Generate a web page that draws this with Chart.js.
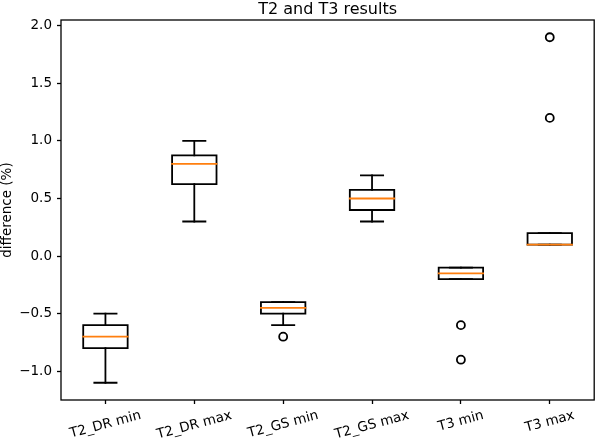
<!DOCTYPE html>
<html>
<head>
<meta charset="utf-8">
<script src="https://cdn.jsdelivr.net/npm/chart.js@4"></script>
<style>
  html, body { margin: 0; padding: 0; background: #fff; }
</style>
</head>
<body>
<canvas id="chart" width="600" height="439"></canvas>
<script>
// values
const titleText = 'T2 and T3 results';
const yLabel = 'difference (%)';
const categories = ['T2_DR min', 'T2_DR max', 'T2_GS min', 'T2_GS max', 'T3 min', 'T3 max'];
const whiskerLow = [-1.1, 0.3, -0.6, 0.3, -0.2, 0.1];
const q1 = [-0.8, 0.625, -0.5, 0.4, -0.2, 0.1];
const median = [-0.7, 0.8, -0.45, 0.5, -0.15, 0.1];
const q3 = [-0.6, 0.875, -0.4, 0.575, -0.1, 0.2];
const whiskerHigh = [-0.5, 1.0, -0.4, 0.7, -0.1, 0.2];
const outliers = [[], [], [-0.7], [], [-0.6, -0.9], [1.2, 1.9]];
const yTicks = [-1.0, -0.5, 0.0, 0.5, 1.0, 1.5, 2.0];

const FONT = '"DejaVu Sans", "Liberation Sans", sans-serif';
const halfBox = 0.25;
const halfCap = 0.125;

// building the line pieces, null y breaks the line between pieces
let boxPts = [], medianPts = [], whiskerPts = [], capPts = [], flierPts = [];
categories.forEach((c, i) => {
    const x = i + 1;
    boxPts.push({x: x - halfBox, y: q1[i]}, {x: x + halfBox, y: q1[i]},
                {x: x + halfBox, y: q3[i]}, {x: x - halfBox, y: q3[i]},
                {x: x - halfBox, y: q1[i]}, {x: x, y: null});
    medianPts.push({x: x - halfBox, y: median[i]}, {x: x + halfBox, y: median[i]}, {x: x, y: null});
    whiskerPts.push({x: x, y: whiskerLow[i]}, {x: x, y: q1[i]}, {x: x, y: null},
                    {x: x, y: q3[i]}, {x: x, y: whiskerHigh[i]}, {x: x, y: null});
    capPts.push({x: x - halfCap, y: whiskerLow[i]}, {x: x + halfCap, y: whiskerLow[i]}, {x: x, y: null},
                {x: x - halfCap, y: whiskerHigh[i]}, {x: x + halfCap, y: whiskerHigh[i]}, {x: x, y: null});
    outliers[i].forEach(v => flierPts.push({x: x, y: v}));
});

function lineSet(data, color, order) {
    return {
        data: data,
        showLine: true,
        spanGaps: false,
        borderColor: color,
        borderWidth: 1.8,
        borderCapStyle: 'square',
        pointRadius: 0,
        order: order
    };
}

// title, frame and the rotated category labels
const decor = {
    id: 'decor',
    afterDraw(chart) {
        const ctx = chart.ctx;
        const a = chart.chartArea;
        const xs = chart.scales.x;
        ctx.save();
        ctx.strokeStyle = '#000';
        ctx.lineWidth = 1.3;
        ctx.strokeRect(a.left, a.top, a.right - a.left, a.bottom - a.top);

        ctx.fillStyle = '#000';
        ctx.font = '16px ' + FONT;
        ctx.textAlign = 'center';
        ctx.textBaseline = 'alphabetic';
        ctx.fillText(titleText, (a.left + a.right) / 2, 13.5);

        ctx.font = '13.5px ' + FONT;
        const ang = 15 * Math.PI / 180;
        categories.forEach((c, i) => {
            const w = ctx.measureText(c).width;
            const boxH = w * Math.sin(ang) + 15 * Math.cos(ang);
            const cx = xs.getPixelForValue(i + 1);
            const cy = a.bottom + 8 + boxH / 2;
            ctx.save();
            ctx.translate(cx, cy);
            ctx.rotate(-ang);
            ctx.textAlign = 'center';
            ctx.textBaseline = 'middle';
            ctx.fillText(c, 0, 0);
            ctx.restore();
        });
        ctx.restore();
    }
};

const ctx = document.getElementById('chart').getContext('2d');
const chart = new Chart(ctx, {
    type: 'scatter',
    data: {
        datasets: [
            lineSet(medianPts, '#ff7f0e', 0),
            lineSet(boxPts, '#000', 1),
            lineSet(whiskerPts, '#000', 2),
            lineSet(capPts, '#000', 2),
            {
                data: flierPts,
                pointStyle: 'circle',
                pointRadius: 4,
                pointBorderWidth: 1.8,
                pointBorderColor: '#000',
                pointBackgroundColor: 'rgba(0,0,0,0)',
                order: 3
            }
        ]
    },
    options: {
        responsive: false,
        animation: false,
        events: [],
        layout: { padding: { left: 0, right: 1, top: 20, bottom: 0 } },
        plugins: {
            legend: { display: false },
            tooltip: { enabled: false }
        },
        scales: {
            x: {
                type: 'linear',
                min: 0.5,
                max: 6.5,
                afterBuildTicks: (scale) => { scale.ticks = categories.map((c, i) => ({value: i + 1})); },
                afterFit: (scale) => { scale.height = 39; },
                grid: { drawOnChartArea: false, drawTicks: true, tickLength: 4, tickColor: '#000', tickWidth: 1.3 },
                border: { display: false },
                ticks: { callback: () => '', padding: 0 }
            },
            y: {
                type: 'linear',
                min: -1.25,
                max: 2.05,
                afterBuildTicks: (scale) => { scale.ticks = yTicks.map(v => ({value: v})); },
                afterFit: (scale) => { scale.width = 61; },
                grid: { drawOnChartArea: false, drawTicks: true, tickLength: 4, tickColor: '#000', tickWidth: 1.3 },
                border: { display: false },
                ticks: {
                    color: '#000',
                    padding: 5,
                    font: { family: FONT, size: 13.5 },
                    callback: (v) => v.toFixed(1).replace('-', '\u2212')
                },
                title: {
                    display: true,
                    text: yLabel,
                    color: '#000',
                    padding: { top: 0, bottom: 0 },
                    font: { family: FONT, size: 13.5, lineHeight: 1.1 }
                }
            }
        }
    },
    plugins: [decor]
});
</script>
</body>
</html>
